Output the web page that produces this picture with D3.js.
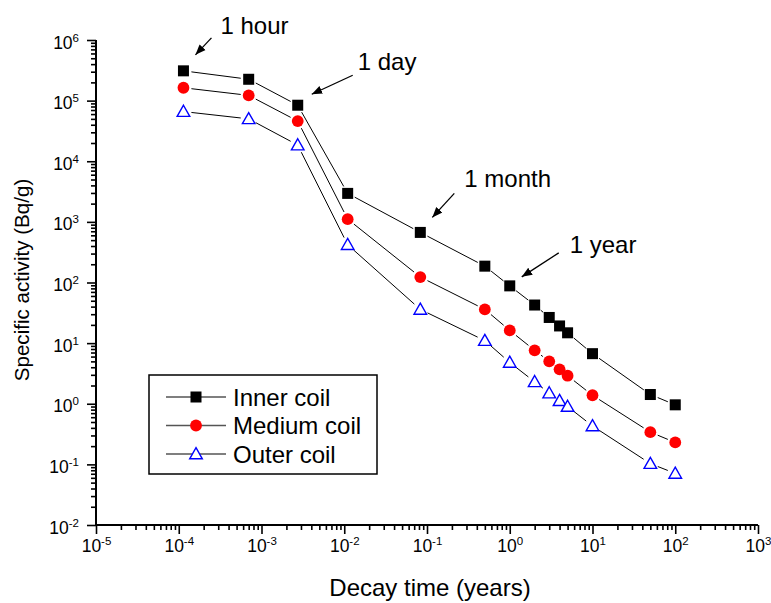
<!DOCTYPE html>
<html>
<head>
<meta charset="utf-8">
<script src="https://cdn.jsdelivr.net/npm/d3@7"></script>
<style>
  body { margin: 0; background: #fff; }
  svg { font-family: Arial, "Liberation Sans", sans-serif; }
</style>
</head>
<body>
<svg id="viz"></svg>
<script>
const width = 771;
const height = 603;

// decay times in years (1 hour ... 100 years)
const times = [1.14e-4, 7.0e-4, 2.74e-3, 0.011, 0.083, 0.5, 1, 2, 3, 4, 5, 10, 50, 100];
const inner = [3.1e5, 2.25e5, 8.4e4, 2.95e3, 670, 186, 88, 42.5, 26.5, 19.2, 14.8, 6.7, 1.42, 0.96];
const medium = [1.63e5, 1.22e5, 4.6e4, 1.11e3, 123, 36, 16.2, 7.6, 5.0, 3.7, 2.9, 1.38, 0.34, 0.23];
const outer = [6.6e4, 5.0e4, 1.85e4, 420, 36, 11, 4.8, 2.3, 1.5, 1.12, 0.9, 0.43, 0.103, 0.071];
const seriesNames = ["Inner coil", "Medium coil", "Outer coil"];
const xDecades = [-5, -4, -3, -2, -1, 0, 1, 2, 3];
const yDecades = [-2, -1, 0, 1, 2, 3, 4, 5, 6];
const notes = [
    { label: "1 hour", t: 1.14e-4, v: 3.1e5 },
    { label: "1 day", t: 2.74e-3, v: 8.4e4 },
    { label: "1 month", t: 0.083, v: 670 },
    { label: "1 year", t: 1, v: 88 }
];

const margin = { left: 96, right: 13, top: 40, bottom: 78 };

const x = d3.scaleLog().domain([1e-5, 1e3]).range([margin.left, width - margin.right]);
const y = d3.scaleLog().domain([1e-2, 1e6]).range([height - margin.bottom, margin.top]);

const svg = d3.select("#viz").attr("width", width).attr("height", height);

// minor ticks 2..9 per decade
function minorTicks(decades) {
    const out = [];
    decades.slice(0, -1).forEach(function (d) {
        for (let k = 2; k <= 9; k++) out.push(k * Math.pow(10, d));
    });
    return out;
}

function supLabel(sel) {
    sel.each(function (d) {
        const e = Math.round(Math.log10(d));
        const t = d3.select(this).text(null);
        t.append("tspan").text("10");
        t.append("tspan").attr("dy", "-0.6em").attr("font-size", "11.5px").text(e);
    });
}

// x axis
const xAxis = svg.append("g").attr("transform", "translate(0," + y.range()[0] + ")");
xAxis.call(d3.axisBottom(x).tickValues(minorTicks(xDecades)).tickSize(5).tickFormat(""));
xAxis.call(g => g.select(".domain").remove());
const xMaj = svg.append("g").attr("transform", "translate(0," + y.range()[0] + ")")
    .call(d3.axisBottom(x).tickValues(xDecades.map(d => Math.pow(10, d))).tickSize(9));
xMaj.selectAll("text").attr("font-size", "17.5px").attr("fill", "#000")
    .attr("y", 27).attr("dy", 0).call(supLabel);
[xAxis, xMaj].forEach(g => g.selectAll("line").attr("stroke", "#000").attr("stroke-width", 1.6));
xMaj.select(".domain").attr("stroke-width", 2).attr("d", "M" + x.range()[0] + ",0H" + x.range()[1]);

// y axis
const yAxis = svg.append("g").attr("transform", "translate(" + x.range()[0] + ",0)");
yAxis.call(d3.axisLeft(y).tickValues(minorTicks(yDecades)).tickSize(5).tickFormat(""));
yAxis.call(g => g.select(".domain").remove());
const yMaj = svg.append("g").attr("transform", "translate(" + x.range()[0] + ",0)")
    .call(d3.axisLeft(y).tickValues(yDecades.map(d => Math.pow(10, d))).tickSize(9));
yMaj.selectAll("text").attr("font-size", "17.5px").attr("fill", "#000")
    .attr("x", -17).attr("y", 8).attr("dy", 0).call(supLabel);
[yAxis, yMaj].forEach(g => g.selectAll("line").attr("stroke", "#000").attr("stroke-width", 1.6));
yMaj.select(".domain").attr("stroke-width", 2).attr("d", "M0," + y.range()[0] + "V" + y.range()[1]);

// axis titles
svg.append("text")
    .attr("x", 430)
    .attr("y", 596)
    .attr("text-anchor", "middle")
    .attr("font-size", "24px")
    .text("Decay time (years)");
svg.append("text")
    .attr("transform", "translate(29,280) rotate(-90)")
    .attr("text-anchor", "middle")
    .attr("font-size", "20.6px")
    .text("Specific activity (Bq/g)");

// series
const series = [
    { name: seriesNames[0], values: inner, shape: "square" },
    { name: seriesNames[1], values: medium, shape: "circle" },
    { name: seriesNames[2], values: outer, shape: "triangle" }
];

function drawMarker(g, shape, px, py) {
    if (shape === "square") {
        g.append("rect").attr("x", px - 5.5).attr("y", py - 5.5).attr("width", 11).attr("height", 11)
            .attr("fill", "#000");
    } else if (shape === "circle") {
        g.append("circle").attr("cx", px).attr("cy", py).attr("r", 5.9).attr("fill", "#f00");
    } else {
        g.append("path")
            .attr("d", "M" + px + "," + (py - 6.3) + "L" + (px + 6.3) + "," + (py + 4.8) + "L" + (px - 6.3) + "," + (py + 4.8) + "Z")
            .attr("fill", "#fff").attr("stroke", "#00f").attr("stroke-width", 1.4);
    }
}

// segments with small gap at each marker
function gapSegments(pts, gap) {
    const segs = [];
    for (let i = 0; i < pts.length - 1; i++) {
        const a = pts[i], b = pts[i + 1];
        const dx = b[0] - a[0], dy = b[1] - a[1];
        const len = Math.sqrt(dx * dx + dy * dy);
        if (len <= 2 * gap) continue;
        const ux = dx / len, uy = dy / len;
        segs.push([a[0] + ux * gap, a[1] + uy * gap, b[0] - ux * gap, b[1] - uy * gap]);
    }
    return segs;
}

const plot = svg.append("g");
series.forEach(function (s) {
    const pts = times.map((t, i) => [x(t), y(s.values[i])]);
    plot.append("g").selectAll("line")
        .data(gapSegments(pts, 8))
        .enter().append("line")
        .attr("x1", d => d[0]).attr("y1", d => d[1])
        .attr("x2", d => d[2]).attr("y2", d => d[3])
        .attr("stroke", "#000").attr("stroke-width", 1);
    const mg = plot.append("g");
    pts.forEach(p => drawMarker(mg, s.shape, p[0], p[1]));
});

// annotations with arrows
svg.append("defs").append("marker")
    .attr("id", "arrow").attr("viewBox", "0 0 10 10").attr("refX", 10).attr("refY", 5)
    .attr("markerWidth", 8).attr("markerHeight", 8).attr("orient", "auto")
    .append("path").attr("d", "M0,1L10,5L0,9Z").attr("fill", "#000");

const noteOffsets = [
    { ax: 12, ay: -16, bx: 28, by: -33, tx: 37, ty: -37 },
    { ax: 14, ay: -11, bx: 55, by: -30, tx: 60, ty: -35 },
    { ax: 12, ay: -15, bx: 34, by: -39, tx: 44, ty: -45 },
    { ax: 12, ay: -9, bx: 49, by: -33, tx: 60, ty: -33 }
];
notes.forEach(function (n, i) {
    const o = noteOffsets[i];
    const px = x(n.t), py = y(n.v);
    svg.append("line")
        .attr("x1", px + o.bx).attr("y1", py + o.by)
        .attr("x2", px + o.ax).attr("y2", py + o.ay)
        .attr("stroke", "#000").attr("stroke-width", 1.3)
        .attr("marker-end", "url(#arrow)");
    svg.append("text")
        .attr("x", px + o.tx).attr("y", py + o.ty)
        .attr("font-size", "24px")
        .text(n.label);
});

// legend
const legend = svg.append("g").attr("transform", "translate(149,375)");
legend.append("rect").attr("width", 228).attr("height", 99)
    .attr("fill", "#fff").attr("stroke", "#000").attr("stroke-width", 1.5);
series.forEach(function (s, i) {
    const ly = 22 + i * 28.5;
    legend.append("line").attr("x1", 17).attr("x2", 77).attr("y1", ly).attr("y2", ly)
        .attr("stroke", "#555").attr("stroke-width", 1.3);
    drawMarker(legend, s.shape, 47, ly);
    legend.append("text").attr("x", 84).attr("y", ly + 8.5).attr("font-size", "24px").text(s.name);
});
</script>
</body>
</html>
